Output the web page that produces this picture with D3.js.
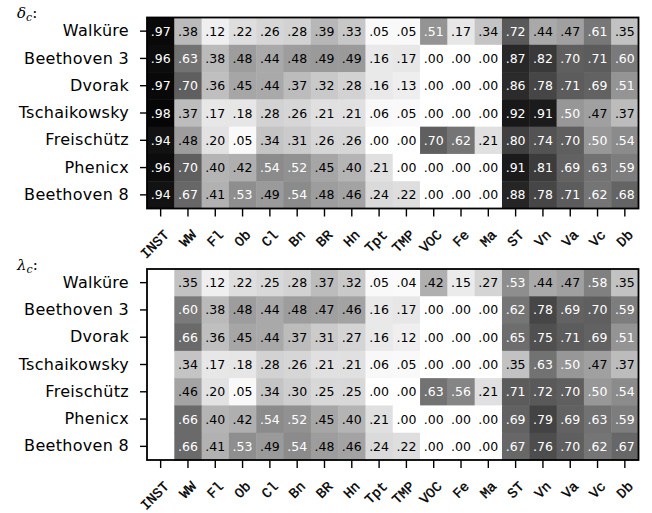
<!DOCTYPE html>
<html>
<head>
<meta charset="utf-8">
<script src="https://cdn.jsdelivr.net/npm/d3@7"></script>
<style>
  body { margin: 0; background: #fff; }
  svg { display: block; }
</style>
</head>
<body>
<svg id="chart" width="652" height="513"></svg>
<script>
const instruments = ['INST', 'WW', 'Fl', 'Ob', 'Cl', 'Bn', 'BR', 'Hn', 'Tpt', 'TMP', 'VOC', 'Fe', 'Ma', 'ST', 'Vn', 'Va', 'Vc', 'Db']
const pieces = ['Walküre', 'Beethoven 3', 'Dvorak', 'Tschaikowsky', 'Freischütz', 'Phenicx', 'Beethoven 8']

// delta_c, one row per piece
const deltaValues = [
  [0.97, 0.38, 0.12, 0.22, 0.26, 0.28, 0.39, 0.33, 0.05, 0.05, 0.51, 0.17, 0.34, 0.72, 0.44, 0.47, 0.61, 0.35],
  [0.96, 0.63, 0.38, 0.48, 0.44, 0.48, 0.49, 0.49, 0.16, 0.17, 0.00, 0.00, 0.00, 0.87, 0.82, 0.70, 0.71, 0.60],
  [0.97, 0.70, 0.36, 0.45, 0.44, 0.37, 0.32, 0.28, 0.16, 0.13, 0.00, 0.00, 0.00, 0.86, 0.78, 0.71, 0.69, 0.51],
  [0.98, 0.37, 0.17, 0.18, 0.28, 0.26, 0.21, 0.21, 0.06, 0.05, 0.00, 0.00, 0.00, 0.92, 0.91, 0.50, 0.47, 0.37],
  [0.94, 0.48, 0.20, 0.05, 0.34, 0.31, 0.26, 0.26, 0.00, 0.00, 0.70, 0.62, 0.21, 0.80, 0.74, 0.70, 0.50, 0.54],
  [0.96, 0.70, 0.40, 0.42, 0.54, 0.52, 0.45, 0.40, 0.21, 0.00, 0.00, 0.00, 0.00, 0.91, 0.81, 0.69, 0.63, 0.59],
  [0.94, 0.67, 0.41, 0.53, 0.49, 0.54, 0.48, 0.46, 0.24, 0.22, 0.00, 0.00, 0.00, 0.88, 0.78, 0.71, 0.62, 0.68]
]

// lambda_c, INST column is empty
const lambdaValues = [
  [null, 0.35, 0.12, 0.22, 0.25, 0.28, 0.37, 0.32, 0.05, 0.04, 0.42, 0.15, 0.27, 0.53, 0.44, 0.47, 0.58, 0.35],
  [null, 0.60, 0.38, 0.48, 0.44, 0.48, 0.47, 0.46, 0.16, 0.17, 0.00, 0.00, 0.00, 0.62, 0.78, 0.69, 0.70, 0.59],
  [null, 0.66, 0.36, 0.45, 0.44, 0.37, 0.31, 0.27, 0.16, 0.12, 0.00, 0.00, 0.00, 0.65, 0.75, 0.71, 0.69, 0.51],
  [null, 0.34, 0.17, 0.18, 0.28, 0.26, 0.21, 0.21, 0.06, 0.05, 0.00, 0.00, 0.00, 0.35, 0.63, 0.50, 0.47, 0.37],
  [null, 0.46, 0.20, 0.05, 0.34, 0.30, 0.25, 0.25, 0.00, 0.00, 0.63, 0.56, 0.21, 0.71, 0.72, 0.70, 0.50, 0.54],
  [null, 0.66, 0.40, 0.42, 0.54, 0.52, 0.45, 0.40, 0.21, 0.00, 0.00, 0.00, 0.00, 0.69, 0.79, 0.69, 0.63, 0.59],
  [null, 0.66, 0.41, 0.53, 0.49, 0.54, 0.48, 0.46, 0.24, 0.22, 0.00, 0.00, 0.00, 0.67, 0.76, 0.70, 0.62, 0.67]
]

const LEFT = 147
const RIGHT = 638.5
const PANELH = 191

const svg = d3.select('svg#chart')
const colour = d3.scaleSequential(d3.interpolateGreys).domain([0, 1])
const x = d3.scaleBand().domain(instruments).range([LEFT, RIGHT])

function fmt (v) {
  return v.toFixed(2).replace(/^0/, '')
}

function drawPanel (values, top, symbol) {
  const y = d3.scaleBand().domain(pieces).range([top, top + PANELH])
  const g = svg.append('g')

  const cells = []
  values.forEach((row, i) => row.forEach((v, j) => {
    if (v !== null) cells.push({ piece: pieces[i], inst: instruments[j], v })
  }))

  g.selectAll('rect.cell')
    .data(cells)
    .join('rect')
    .classed('cell', true)
    .attr('x', d => x(d.inst))
    .attr('y', d => y(d.piece))
    .attr('width', x.bandwidth() + 0.5)
    .attr('height', y.bandwidth() + 0.5)
    .attr('fill', d => colour(d.v))

  g.selectAll('text.val')
    .data(cells)
    .join('text')
    .classed('val', true)
    .attr('x', d => x(d.inst) + x.bandwidth() / 2)
    .attr('y', d => y(d.piece) + y.bandwidth() / 2)
    .attr('dy', '0.36em')
    .attr('text-anchor', 'middle')
    .attr('font-family', 'DejaVu Sans')
    .attr('font-size', 12.5)
    .attr('fill', d => d.v >= 0.5 ? '#fff' : '#000')
    .text(d => fmt(d.v))

  // frame
  g.append('rect')
    .attr('x', LEFT)
    .attr('y', top)
    .attr('width', RIGHT - LEFT)
    .attr('height', PANELH)
    .attr('fill', 'none')
    .attr('stroke', '#000')
    .attr('stroke-width', 1.8)

  const yAxis = g.append('g')
    .attr('transform', `translate(${LEFT},0)`)
    .call(d3.axisLeft(y).tickSize(7).tickPadding(11))
  yAxis.select('.domain').remove()
  yAxis.selectAll('line').attr('stroke-width', 1.4)
  yAxis.selectAll('text')
    .attr('font-family', 'DejaVu Sans')
    .attr('font-size', 16)
    .attr('letter-spacing', 0.3)
    .attr('fill', '#000')

  const xAxis = g.append('g')
    .attr('transform', `translate(0,${top + PANELH})`)
    .call(d3.axisBottom(x).tickSize(8))
  xAxis.select('.domain').remove()
  xAxis.selectAll('line').attr('stroke-width', 1.4)
  xAxis.selectAll('text')
    .attr('font-family', 'Liberation Mono')
    .attr('font-size', 14)
    .attr('fill', '#000')
    .attr('stroke', '#000')
    .attr('stroke-width', 0.35)
    .attr('text-anchor', 'end')
    .attr('y', 0)
    .attr('dy', 0)
    .attr('transform', 'translate(9,27) rotate(-45)')

  // panel label
  const lab = svg.append('text')
    .attr('x', 17)
    .attr('y', top + 0.5)
    .attr('font-family', 'DejaVu Serif')
    .attr('font-size', 15)
  lab.append('tspan').attr('font-style', 'italic').text(symbol)
  lab.append('tspan').attr('font-style', 'italic').attr('font-size', 11).attr('dy', 3).text('c')
  lab.append('tspan').attr('dy', -3).text(':')
}

drawPanel(deltaValues, 17.5, 'δ')
drawPanel(lambdaValues, 269, 'λ')
</script>
</body>
</html>
